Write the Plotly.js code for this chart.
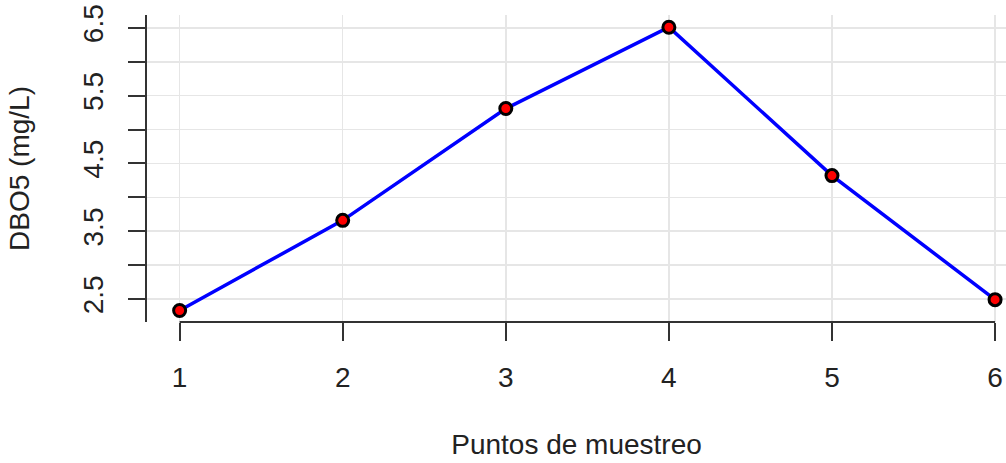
<!DOCTYPE html>
<html>
<head>
<meta charset="utf-8">
<script src="https://cdn.plot.ly/plotly-3.0.1.min.js"></script>
<style>html,body{margin:0;padding:0;background:#fff;}#chart{width:1006px;height:463px;}</style>
</head>
<body>
<div id="chart"></div>
<script>
// Data
const puntos = [1, 2, 3, 4, 5, 6];
const dbo5 = [2.33, 3.66, 5.31, 6.51, 4.32, 2.49];
const yTickVals = [2.5, 3.0, 3.5, 4.0, 4.5, 5.0, 5.5, 6.0, 6.5];
const yTickText = ["2.5", "", "3.5", "", "4.5", "", "5.5", "", "6.5"];
const xTickVals = [1, 2, 3, 4, 5, 6];
const xTickText = ["1", "2", "3", "4", "5", "6"];

const axisColor = "#333333";
const textColor = "#222222";
const fontFamily = "Liberation Sans, Arial, sans-serif";

const trace = {
  x: puntos,
  y: dbo5,
  type: "scatter",
  mode: "lines+markers",
  line: {color: "#0000ff", width: 3.5},
  marker: {color: "#ff0000", size: 12, symbol: "circle", line: {color: "#000000", width: 3}},
  cliponaxis: false,
  showlegend: false
};

const layout = {
  width: 1006,
  height: 463,
  margin: {l: 147, r: 0, t: 15, b: 141, pad: 0},
  paper_bgcolor: "#ffffff",
  plot_bgcolor: "#ffffff",
  font: {family: fontFamily, color: textColor, size: 28},
  xaxis: {
    range: [0.8, 6.067],
    tickvals: xTickVals,
    ticktext: xTickText,
    ticks: "outside",
    ticklen: 18,
    tickwidth: 2,
    tickcolor: axisColor,
    showline: false,
    zeroline: false,
    showgrid: true,
    gridcolor: "#e6e6e6",
    gridwidth: 1.5,
    tickfont: {size: 28, color: textColor},
    ticklabelstandoff: 12,
    title: {text: "Puntos de muestreo", font: {size: 28, color: textColor}, standoff: 42}
  },
  yaxis: {
    range: [2.16, 6.69],
    tickvals: yTickVals,
    ticktext: yTickText,
    tickangle: -90,
    ticks: "outside",
    ticklen: 17,
    tickwidth: 2,
    tickcolor: axisColor,
    showline: true,
    linecolor: axisColor,
    linewidth: 2,
    zeroline: false,
    showgrid: true,
    gridcolor: "#e6e6e6",
    gridwidth: 1.5,
    tickfont: {size: 28, color: textColor},
    ticklabelstandoff: 14,
    title: {text: "DBO5 (mg/L)", font: {size: 28, color: textColor}, standoff: 40}
  },
  shapes: [{
    type: "line",
    xref: "x", yref: "paper",
    x0: xTickVals[0], x1: xTickVals[xTickVals.length - 1],
    y0: 0, y1: 0,
    line: {color: axisColor, width: 2}
  }]
};

Plotly.newPlot("chart", [trace], layout, {displayModeBar: false, staticPlot: true});
</script>
</body>
</html>
